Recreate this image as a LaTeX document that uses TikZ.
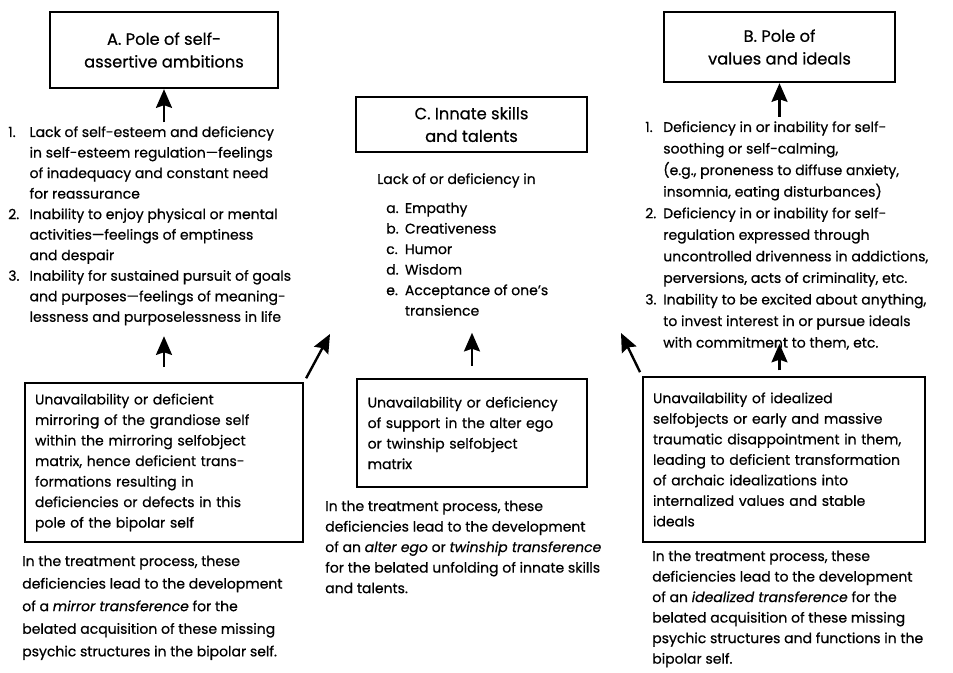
\documentclass[tikz,border=0pt]{standalone}
\usepackage{fontspec}
\setmainfont{Poppins}[FakeBold=0.6]
\usetikzlibrary{arrows.meta,positioning}

\tikzset{
  pole/.style = {draw, line width=1.8pt, align=center, inner sep=0pt,
    font=\fontsize{12.2}{17}\selectfont},
  cause/.style = {draw, line width=1.8pt, align=left, inner xsep=7.5pt},
  txt/.style = {inner sep=0pt, anchor=base west},
  up/.style = {-{Stealth[length=14pt,width=12pt,inset=2pt]}, line width=1.8pt}
}

\begin{document}
\begin{tikzpicture}[x=0.75pt, y=-0.75pt, font=\fontsize{10.5}{15.4}\selectfont]
\useasboundingbox (0,0) rectangle (953,673);

% the three poles
\node[pole, minimum width=171pt, minimum height=57pt] (poleA) at (164,50) {A. Pole of self-\\assertive ambitions};
\node[pole, minimum width=173.25pt, minimum height=41.25pt] (poleC) at (471.5,124.5) {C. Innate skills\\and talents};
\node[pole, minimum width=173.25pt, minimum height=52.5pt] (poleB) at (779.5,47) {B. Pole of\\values and ideals};

% deficiencies
\node[txt] (listA) at (8,137) {\begin{tabular}[t]{@{}p{16pt}@{}l@{}}
1. & Lack of self-esteem and deficiency\\
   & in self-esteem regulation---feelings\\
   & of inadequacy and constant need\\
   & for reassurance\\
2. & Inability to enjoy physical or mental\\
   & activities---feelings of emptiness\\
   & and despair\\
3. & Inability for sustained pursuit of goals\\
   & and purposes---feelings of meaning-\\
   & lessness and purposelessness in life
\end{tabular}};

\node[txt] (leadC) at (377,184) {Lack of or deficiency in};
\node[txt] (listC) at (386,213) {\begin{tabular}[t]{@{}p{14pt}@{}l@{}}
a. & Empathy\\
b. & Creativeness\\
c. & Humor\\
d. & Wisdom\\
e. & Acceptance of one’s\\
   & transience
\end{tabular}};

\node[txt] (listB) at (645,132) {\def\arraystretch{1.05}\begin{tabular}[t]{@{}p{13.5pt}@{}l@{}}
1. & Deficiency in or inability for self-\\
   & soothing or self-calming,\\
   & (e.g., proneness to diffuse anxiety,\\
   & insomnia, eating disturbances)\\
2. & Deficiency in or inability for self-\\
   & regulation expressed through\\
   & uncontrolled drivenness in addictions,\\
   & perversions, acts of criminality, etc.\\
3. & Inability to be excited about anything,\\
   & to invest interest in or pursue ideals\\
   & with commitment to them, etc.
\end{tabular}};

% selfobject failures
\node[cause, text width=193.5pt, minimum height=119.25pt] (mirror) at (164,462.5)
  {Unavailability or deficient\\mirroring of the grandiose self\\within the mirroring selfobject\\matrix, hence deficient trans-\\formations resulting in\\deficiencies or defects in this\\pole of the bipolar self};
\node[cause, inner xsep=8pt, text width=156.5pt, minimum height=81pt] (twin) at (472,433)
  {Unavailability or deficiency\\of support in the alter ego\\or twinship selfobject\\matrix};
\node[cause, text width=196.5pt, minimum height=123.75pt] (ideal) at (784,459.5)
  {Unavailability of idealized\\selfobjects or early and massive\\traumatic disappointment in them,\\leading to deficient transformation\\of archaic idealizations into\\internalized values and stable\\ideals};

% treatment notes
\node[txt] (noteA) at (22,566) {\def\arraystretch{1.1}\begin{tabular}[t]{@{}l@{}}
In the treatment process, these\\
deficiencies lead to the development\\
of a \textit{mirror transference} for the\\
belated acquisition of these missing\\
psychic structures in the bipolar self.
\end{tabular}};
\node[txt] (noteC) at (325,511) {\begin{tabular}[t]{@{}l@{}}
In the treatment process, these\\
deficiencies lead to the development\\
of an \textit{alter ego} or \textit{twinship transference}\\
for the belated unfolding of innate skills\\
and talents.
\end{tabular}};
\node[txt] (noteB) at (652,561) {\begin{tabular}[t]{@{}l@{}}
In the treatment process, these\\
deficiencies lead to the development\\
of an \textit{idealized transference} for the\\
belated acquisition of these missing\\
psychic structures and functions in the\\
bipolar self.
\end{tabular}};

\coordinate (tipL) at (330,334);
\coordinate (tipR) at (621,333);

\draw[up] (listA.north -| poleA.south) -- (poleA.south);
\draw[up] (listB.north -| poleB.south) -- (poleB.south);
\draw[up, shorten <=11pt, shorten >=6pt] (mirror.north) -- (mirror.north |- listA.south);
\draw[up, shorten <=3pt] (mirror.north east) -- (tipL);
\draw[up, shorten <=9pt, shorten >=8pt] (twin.north) -- (twin.north |- listC.south);
\draw[up, shorten <=3pt] (ideal.north west) -- (tipR);
\draw[up, shorten <=4pt, shorten >=-8pt] (ideal.north -| poleB.south) -- (listB.south -| poleB.south);
\end{tikzpicture}
\end{document}
